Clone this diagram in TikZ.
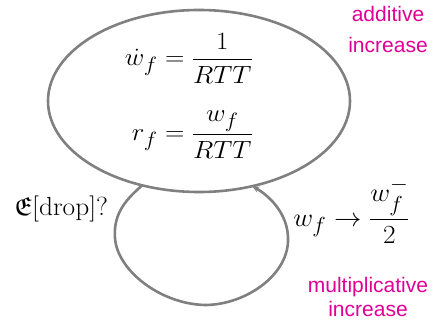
\documentclass[tikz,border=0pt]{standalone}
\usepackage{amsmath,amssymb}
\usepackage{graphicx}
\usepackage{fontspec}
\setsansfont{Liberation Sans}
\usetikzlibrary{arrows.meta,shapes.geometric}
\definecolor{loopgray}{RGB}{128,128,128}
\definecolor{mag}{RGB}{225,0,150}
\tikzset{
  loopline/.style={draw=loopgray, line width=2.6pt},
  note/.style={text=mag, font=\fontsize{21}{24}\sffamily\selectfont, inner sep=0pt, anchor=base},
  mathtext/.style={font=\fontsize{24.88}{30}\selectfont, inner sep=0pt},
}
\begin{document}
\begin{tikzpicture}[x=1pt,y=-1pt]
\useasboundingbox (0,0) rectangle (435,328);
\node[loopline, ellipse, minimum width=302pt, minimum height=182pt, inner sep=0pt, outer sep=0pt] (E) at (199,101) {};
\node[mathtext, anchor=base east] (eq1) at (253,66) {\scalebox{1.08}[1]{$\displaystyle \dot w_f = \frac{1}{RTT}$}};
\node[mathtext, anchor=base east] (eq2) at (253,141) {\scalebox{1.08}[1]{$\displaystyle r_f = \frac{w_f}{RTT}$}};
\draw[loopline, -{Stealth[length=7pt,width=6pt]}] (E.236)
  .. controls (128,198) and (113,212) .. (115,238)
  .. controls (117,270) and (160,304) .. (205,305)
  .. controls (245,305) and (290,275) .. (288,237)
  .. controls (287,212) and (268,195) .. (E.302);
\node[mathtext, anchor=base] (drop) at (61,215) {\scalebox{1.1}[1.05]{$\mathfrak{E}[\mathrm{drop}]?$}};
\node[mathtext, anchor=base east] (half) at (410,226) {\scalebox{1.1}[1.05]{$w_f \rightarrow \dfrac{w_f^-}{2}$}};
\node[note] (add1) at (388,22) {additive};
\node[note] (add2) at (388,53) {increase};
\node[note] (mul1) at (368,292) {multiplicative};
\node[note] (mul2) at (368,316) {increase};
\end{tikzpicture}
\end{document}
